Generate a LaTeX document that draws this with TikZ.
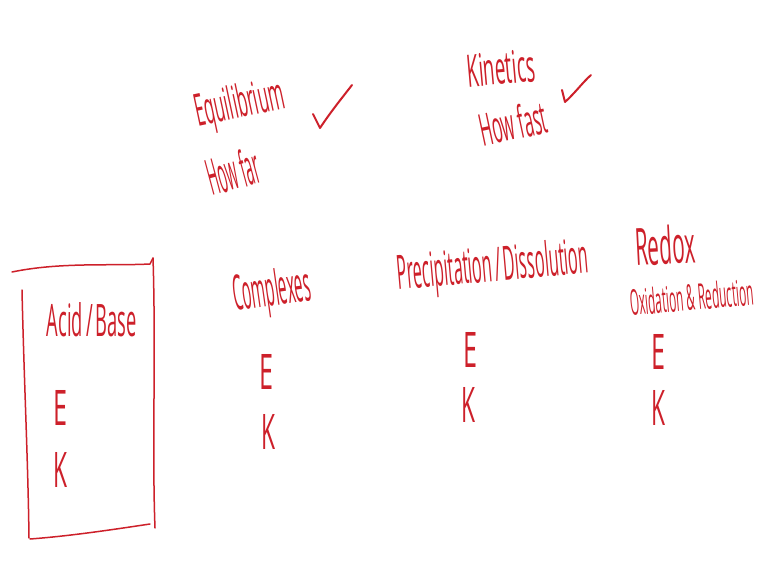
\documentclass[tikz,border=0pt]{standalone}
\usepackage{fontspec}
\setmainfont{Open Sans}
\usepackage{graphicx}
\definecolor{ink}{RGB}{205,32,42}
\tikzset{
  hand/.style={text=ink, inner sep=0pt, anchor=center},
  stroke/.style={draw=ink, line width=1.5pt, line cap=round, line join=round},
  tick/.style={draw=ink, line width=2pt, line cap=round, line join=round}
}
\newcommand{\hw}[3]{\resizebox{#1pt}{#2pt}{#3}}
\begin{document}
\begin{tikzpicture}[x=1pt,y=-1pt]
\useasboundingbox (0,0) rectangle (758,581);
\fill[white] (0,0) rectangle (758,581);
% top row
\node[hand, rotate=12] (equil) at (240,106) {\hw{90}{34}{Equilibrium}};
\node[hand, rotate=15] (howfar) at (233,171) {\hw{52}{38}{How far}};
\node[hand, rotate=5] (kin) at (501,68) {\hw{68}{33}{Kinetics}};
\node[hand, rotate=12] (howfast) at (513,123) {\hw{68}{34}{How fast}};
\coordinate (c1a) at (313,114);
\coordinate (c1b) at (320,128);
\coordinate (c1c) at (352,85);
\draw[tick] (c1a) .. controls (316,120) .. (c1b) .. controls (332,110) and (342,98) .. (c1c);
\coordinate (c2a) at (562,90);
\coordinate (c2b) at (565,102);
\coordinate (c2c) at (591,75);
\draw[tick] (c2a) -- (c2b) .. controls (575,93) and (583,82) .. (c2c);
% box
\coordinate (b1) at (12,272);
\coordinate (b2) at (150,264);
\coordinate (b3) at (153,258);
\coordinate (b4) at (155,528);
\coordinate (b5) at (150,524);
\coordinate (b6) at (30,539);
\coordinate (b7) at (22,290);
\coordinate (b8) at (29,538);
\draw[stroke] (b1) .. controls (60,262) and (110,266) .. (b2) -- (b3);
\draw[stroke] (b3) .. controls (156,350) and (152,450) .. (b4);
\draw[stroke] (b5) .. controls (110,530) and (70,536) .. (b6);
\draw[stroke] (b7) .. controls (24,380) and (28,460) .. (b8);
\node[hand] (acid) at (92,320) {\hw{90}{34}{Acid\,/\,Base}};
\node[hand] (e1) at (60,408) {\hw{14}{35}{E}};
\node[hand] (k1) at (60,470) {\hw{14}{35}{K}};
% columns
\node[hand, rotate=8] (comp) at (272,293) {\hw{78}{37}{Complexes}};
\node[hand] (e2) at (266,372) {\hw{14}{35}{E}};
\node[hand] (k2) at (268,432) {\hw{14}{35}{K}};
\node[hand, rotate=5] (prec) at (493,269) {\hw{192}{36}{Precipitation\,/\,Dissolution}};
\node[hand] (e3) at (470,350) {\hw{14}{35}{E}};
\node[hand] (k3) at (468,405) {\hw{14}{35}{K}};
\node[hand, rotate=3] (redox) at (665,245) {\hw{60}{39}{Redox}};
\node[hand, rotate=5] (oxred) at (692,297) {\hw{124}{27}{Oxidation \& Reduction}};
\node[hand] (e4) at (658,352) {\hw{14}{35}{E}};
\node[hand] (k4) at (658,408) {\hw{14}{35}{K}};
\end{tikzpicture}
\end{document}
